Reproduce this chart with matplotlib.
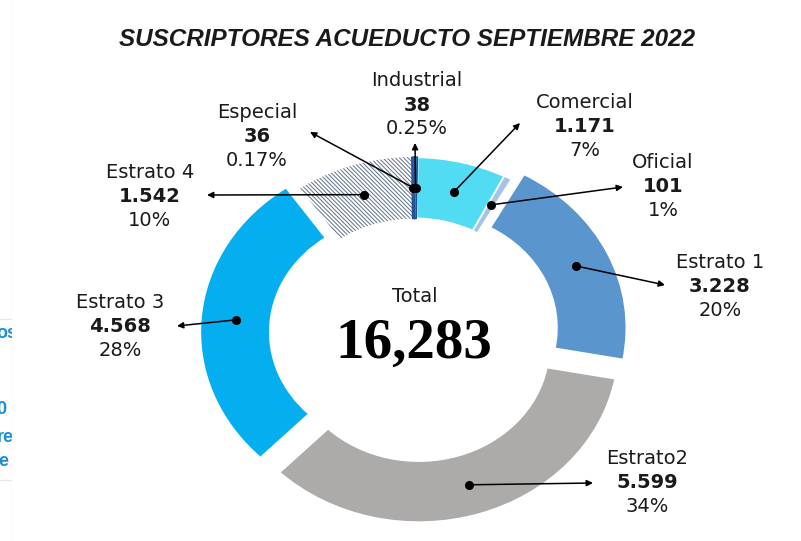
import matplotlib
matplotlib.use("Agg")
import matplotlib.pyplot as plt
import numpy as np

categorias = ["Comercial", "Oficial", "Estrato 1", "Estrato2",
              "Estrato 3", "Estrato 4", "Especial", "Industrial"]
suscriptores = [1171, 101, 3228, 5599, 4568, 1542, 36, 38]
porcentajes = ["7%", "1%", "20%", "34%", "28%", "10%", "0.17%", "0.25%"]

colores = ["#52dcf4", "#a4c3e6", "#5a95cd", "#adaaaa",
           "#05aeee", "white", "#2f6cb6", "#3f86d0"]
explode = [0, 0, 0.07, 0.08, 0.07, 0, 0, 0]

W, H = 801, 541
# ring centre and radii in pixels (y measured from the top)
CX, CY, RX, RY = 414, 333, 200, 176


def px(x, y):
    return (x - CX) / RX, (CY - y) / RY


# label block (first line centre) and arrow tip, in pixels
etiquetas = {
    "Comercial": ((585, 102), (520, 123)),
    "Oficial": ((663, 163), (623, 187)),
    "Estrato 1": ((720, 262), (665, 285)),
    "Estrato2": ((647, 458), (593, 483)),
    "Estrato 3": ((120, 303), (177, 326)),
    "Estrato 4": ((150, 173), (207, 195)),
    "Especial": ((257, 112), (310, 132)),
    "Industrial": ((417, 81), (415, 143)),
}

plt.rcParams["font.family"] = ["DejaVu Sans"]
plt.rcParams["hatch.linewidth"] = 0.7

fig = plt.figure(figsize=(W / 100, H / 100), dpi=100)
ax = fig.add_axes([0, 0, 1, 1])
wedges, _ = ax.pie(suscriptores, colors=colores, startangle=89, counterclock=False,
                   explode=explode, radius=1,
                   wedgeprops=dict(width=0.35, edgecolor="white", linewidth=1.6))
ax.set_aspect("auto")
ax.set_xlim(px(0, 0)[0], px(W, 0)[0])
ax.set_ylim(px(0, H)[1], px(0, 0)[1])
ax.axis("off")

# Estrato 4: hatched slice
wedges[5].set_hatch("\\" * 8)
wedges[5].set_edgecolor("#61718a")
wedges[5].set_linewidth(0)
# Oficial is a sliver; a thinner white edge keeps it visible
wedges[1].set_linewidth(1.1)
for w in wedges[6:]:
    w.set_edgecolor("#1f4f8f")
    w.set_linewidth(1)

for w, nombre, valor, pct in zip(wedges, categorias, suscriptores, porcentajes):
    ang = np.deg2rad((w.theta1 + w.theta2) / 2)
    rm = w.r - w.width / 2
    dot = (w.center[0] + rm * np.cos(ang), w.center[1] + rm * np.sin(ang))
    (lx, ly), tip = etiquetas[nombre]
    ax.annotate("", xy=px(*tip), xytext=dot,
                arrowprops=dict(arrowstyle="-|>", color="black", lw=1.1,
                                mutation_scale=9, shrinkA=0, shrinkB=0))
    ax.plot(*dot, "o", ms=5.5, color="black")
    ax.text(*px(lx, ly), nombre, ha="center", va="center", fontsize=14, color="#1a1a1a")
    ax.text(*px(lx, ly + 24), f"{valor:,}".replace(",", "."), ha="center", va="center",
            fontsize=14, fontweight="bold", color="#1a1a1a")
    ax.text(*px(lx, ly + 48), pct, ha="center", va="center", fontsize=14, color="#1a1a1a")

total = sum(suscriptores)
ax.text(*px(415, 296), "Total", ha="center", va="center", fontsize=14, color="#1a1a1a")
ax.text(*px(414, 344), f"{total:,}", ha="center", va="center", fontsize=41,
        fontweight="bold", family="Liberation Serif", color="black")

fig.text(407 / W, 1 - 40 / H, "SUSCRIPTORES ACUEDUCTO SEPTIEMBRE 2022",
         ha="center", va="center", fontsize=17.5, fontweight="bold",
         fontstyle="italic", family="Liberation Sans", color="#1a1a1a")

# cut-off strip on the left edge
side = fig.add_axes([0, 0, 12 / W, 1])
side.set_xlim(0, 12)
side.set_ylim(H, 0)
side.axis("off")
for txt, x, y in [("os", -4, 333), ("0", -4, 410), ("re", -3, 437), ("e", -2, 462)]:
    side.text(x, y, txt, ha="left", va="center", fontsize=13, fontweight="bold",
              family="Liberation Sans", color="#1b8fd2", clip_on=True)
side.axvline(11.5, color="#e8e8e8", lw=1)
side.hlines([319, 480], 0, 11.5, color="#e8e8e8", lw=1)

fig.savefig("out.png", dpi=100, facecolor="white")
